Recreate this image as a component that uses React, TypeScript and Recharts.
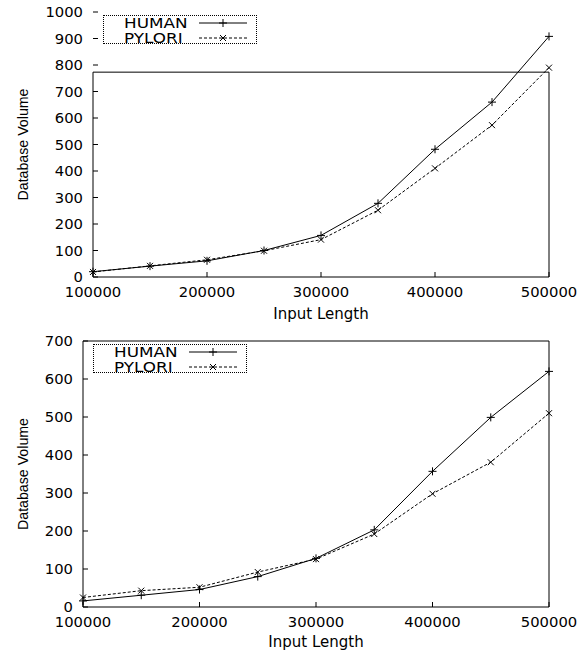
import React from "react";
import { LineChart, Line, XAxis, YAxis, ReferenceArea, Legend } from "recharts";

// x positions (input length) shared by both panels
const inputLength = [100000, 150000, 200000, 250000, 300000, 350000, 400000, 450000, 500000];

// upper panel
const humanTop = [20, 41, 61, 100, 157, 278, 482, 660, 908];
const pyloriTop = [19, 42, 65, 99, 141, 252, 410, 573, 790];

// lower panel
const humanBottom = [16, 31, 46, 80, 128, 203, 357, 499, 620];
const pyloriBottom = [25, 43, 52, 92, 126, 192, 298, 381, 510];

const xTicks = [100000, 200000, 300000, 400000, 500000];
const yTicksTop = [0, 100, 200, 300, 400, 500, 600, 700, 800, 900, 1000];
const yTicksBottom = [0, 100, 200, 300, 400, 500, 600, 700];

const seriesNames = ["HUMAN", "PYLORI"];

const FONT = "'DejaVu Sans', sans-serif";
const INK = "#000";
const TICK = 5;
const DIGIT_W = 9.4;

function BottomTick({ x, y, payload }: any) {
  const s = String(payload.value);
  return (
    <g>
      <line x1={x} x2={x} y1={y} y2={y - TICK} stroke={INK} />
      <text
        x={x}
        y={y + 20}
        textAnchor="middle"
        fontFamily={FONT}
        fontSize={14}
        textLength={s.length * DIGIT_W}
        lengthAdjust="spacingAndGlyphs"
        fill={INK}
      >
        {s}
      </text>
    </g>
  );
}

function TopTick({ x, y }: any) {
  return <line x1={x} x2={x} y1={y} y2={y + TICK} stroke={INK} />;
}

function LeftTick({ x, y, payload }: any) {
  const s = String(payload.value);
  return (
    <g>
      <line x1={x} x2={x + TICK} y1={y} y2={y} stroke={INK} />
      <text
        x={x - 10}
        y={y + 5}
        textAnchor="end"
        fontFamily={FONT}
        fontSize={14}
        textLength={s.length * DIGIT_W}
        lengthAdjust="spacingAndGlyphs"
        fill={INK}
      >
        {s}
      </text>
    </g>
  );
}

function RightTick({ x, y }: any) {
  return <line x1={x} x2={x - TICK} y1={y} y2={y} stroke={INK} />;
}

function YLabel(props: any) {
  const vb = props.viewBox || {};
  const cx = 22;
  const cy = vb.y + vb.height / 2;
  return (
    <text
      x={cx}
      y={cy}
      transform={`rotate(-90, ${cx}, ${cy})`}
      textAnchor="middle"
      dominantBaseline="central"
      fontFamily="'Liberation Sans', Arial, sans-serif"
      fontSize={15}
      textLength={112}
      lengthAdjust="spacingAndGlyphs"
      fill={INK}
    >
      Database Volume
    </text>
  );
}

const plusDot = (p: any) => (
  <path
    key={`plus-${p.index}`}
    d={`M${p.cx - 4},${p.cy}h8M${p.cx},${p.cy - 4}v8`}
    stroke={INK}
    fill="none"
  />
);

const crossDot = (p: any) => (
  <path
    key={`cross-${p.index}`}
    d={`M${p.cx - 3},${p.cy - 3}l6,6M${p.cx - 3},${p.cy + 3}l6,-6`}
    stroke={INK}
    fill="none"
  />
);

function LegendBox({ payload }: any) {
  const items = payload || [];
  return (
    <div
      style={{
        width: 152,
        height: 27,
        border: "1px dotted #000",
        position: "relative",
        fontFamily: FONT,
        fontSize: 14,
        lineHeight: "14px",
        color: INK,
        background: "#fff",
      }}
    >
      {items.map((entry: any, i: number) => (
        <div key={i} style={{ position: "absolute", left: 0, top: i * 15, width: "100%", height: 14 }}>
          <span
            style={{
              position: "absolute",
              left: 20,
              top: 0,
              display: "inline-block",
              transform: "scaleX(1.2)",
              transformOrigin: "left",
              whiteSpace: "nowrap",
            }}
          >
            {entry.value}
          </span>
          <svg style={{ position: "absolute", left: 95, top: 0 }} width={48} height={14}>
            <line
              x1={0}
              x2={48}
              y1={7}
              y2={7}
              stroke={INK}
              strokeDasharray={i === 1 ? "3 2" : undefined}
            />
            {i === 0 ? plusDot({ cx: 24, cy: 7, index: "lg" }) : crossDot({ cx: 24, cy: 7, index: "lg" })}
          </svg>
        </div>
      ))}
    </div>
  );
}

interface PanelProps {
  human: number[];
  pylori: number[];
  yMax: number;
  frameMax: number;
  yTicks: number[];
  height: number;
  plotTop: number;
  plotBottom: number;
  plotLeft: number;
  legendLeft: number;
  legendTop: number;
  labelOffset: number;
}

function Panel(props: PanelProps) {
  const { human, pylori, yMax, frameMax, yTicks, height, plotTop, plotBottom, plotLeft, legendLeft, legendTop, labelOffset } = props;
  const rows = inputLength.map((x, i) => ({ x, human: human[i], pylori: pylori[i] }));

  return (
    <LineChart width={586} height={height} data={rows} margin={{ top: plotTop, right: 37, left: 0, bottom: 0 }}>
      <XAxis
        dataKey="x"
        type="number"
        domain={[100000, 500000]}
        ticks={xTicks}
        interval={0}
        axisLine={false}
        tickLine={false}
        tickSize={0}
        tickMargin={0}
        height={height - plotBottom}
        tick={<BottomTick />}
        label={{
          value: "Input Length",
          position: "insideBottom",
          offset: labelOffset,
          fontFamily: FONT,
          fontSize: 15,
          fill: INK,
        }}
      />
      <XAxis
        xAxisId="t"
        dataKey="x"
        type="number"
        orientation="top"
        domain={[100000, 500000]}
        ticks={xTicks}
        interval={0}
        axisLine={false}
        tickLine={false}
        tickSize={0}
        tickMargin={0}
        height={0}
        tick={<TopTick />}
      />
      <YAxis
        type="number"
        domain={[0, yMax]}
        ticks={yTicks}
        interval={0}
        axisLine={false}
        tickLine={false}
        tickSize={0}
        tickMargin={0}
        width={plotLeft}
        tick={<LeftTick />}
        label={YLabel}
      />
      <YAxis
        yAxisId="r"
        orientation="right"
        type="number"
        domain={[0, yMax]}
        ticks={yTicks}
        interval={0}
        axisLine={false}
        tickLine={false}
        tickSize={0}
        tickMargin={0}
        width={0}
        tick={<RightTick />}
      />
      <ReferenceArea
        x1={100000}
        x2={500000}
        y1={0}
        y2={frameMax}
        stroke={INK}
        strokeWidth={1}
        fill="none"
        fillOpacity={0}
      />
      <Line
        dataKey="human"
        name={seriesNames[0]}
        type="linear"
        stroke={INK}
        strokeWidth={1}
        dot={plusDot}
        activeDot={false}
        isAnimationActive={false}
      />
      <Line
        dataKey="pylori"
        name={seriesNames[1]}
        type="linear"
        stroke={INK}
        strokeWidth={1}
        strokeDasharray="3 2"
        dot={crossDot}
        activeDot={false}
        isAnimationActive={false}
      />
      <Legend
        layout="horizontal"
        verticalAlign="middle"
        align="center"
        content={<LegendBox />}
        wrapperStyle={{ left: legendLeft, top: legendTop, width: "auto", height: "auto" }}
      />
    </LineChart>
  );
}

export default function App() {
  return (
    <div style={{ position: "absolute", left: 0, top: 0, width: 586, height: 651, background: "#fff" }}>
      <Panel
        human={humanTop}
        pylori={pyloriTop}
        yMax={1000}
        frameMax={773}
        yTicks={yTicksTop}
        height={325}
        plotTop={12}
        plotBottom={277}
        plotLeft={93}
        legendLeft={103}
        legendTop={15}
        labelOffset={6}
      />
      <Panel
        human={humanBottom}
        pylori={pyloriBottom}
        yMax={700}
        frameMax={700}
        yTicks={yTicksBottom}
        height={326}
        plotTop={16}
        plotBottom={282}
        plotLeft={83}
        legendLeft={93}
        legendTop={19}
        labelOffset={4}
      />
    </div>
  );
}
